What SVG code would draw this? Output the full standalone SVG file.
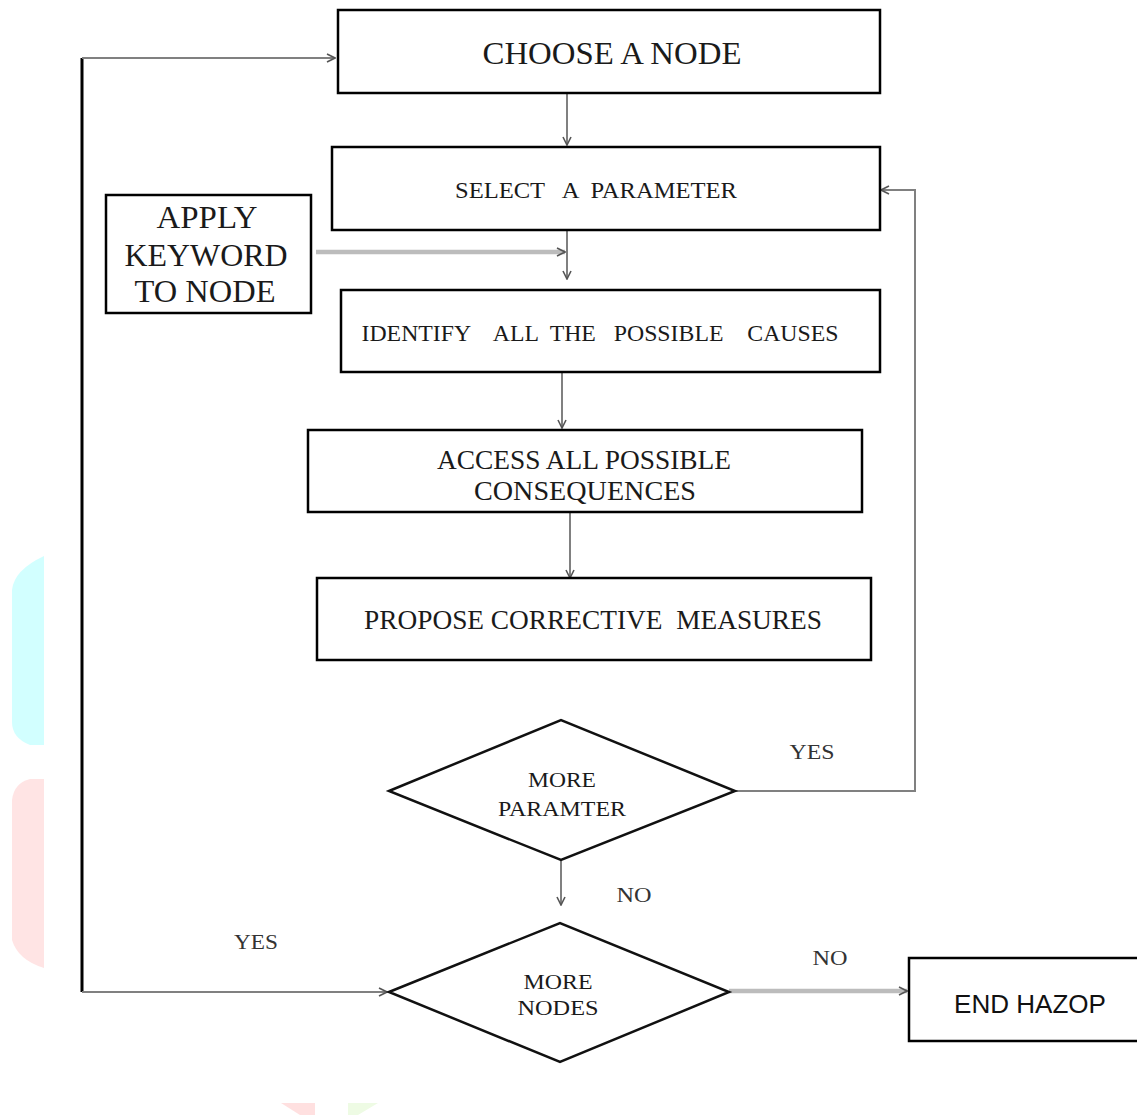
<svg xmlns="http://www.w3.org/2000/svg" width="1137" height="1115" viewBox="0 0 1137 1115">
<defs>
<marker id="arr" viewBox="0 0 10 10" refX="9" refY="5" markerWidth="10" markerHeight="10" markerUnits="userSpaceOnUse" orient="auto">
<path d="M1,1 L9,5 L1,9" fill="none" stroke="#555" stroke-width="1.6"/>
</marker>
</defs>
<style>
.box{fill:#fff;stroke:#000;stroke-width:2.5}
.t{font-family:"Liberation Serif","Times New Roman",serif;fill:#1a1a1a;text-anchor:middle}
.s{font-family:"Liberation Sans",Arial,sans-serif;fill:#111;text-anchor:middle}
.c{fill:none;stroke:#808080;stroke-width:2}
.ct{fill:none;stroke:#bcbcbc;stroke-width:4.5}
.lbl{font-family:"Liberation Serif","Times New Roman",serif;fill:#333;font-size:20px;text-anchor:middle}
</style>
<rect width="1137" height="1115" fill="#fff"/>
<g id="watermark">
<path d="M44,556 L44,745 L30,745 Q12,738 12,722 L12,590 Q14,570 44,556 Z" fill="#d2ffff"/>
<path d="M44,779 L44,968 Q18,960 12,940 L12,800 Q14,783 30,779 Z" fill="#ffe4e4"/>
<path d="M281,1103 L315,1103 L315,1115 L300,1115 Z" fill="#ffe0e0"/>
<path d="M348,1103 L378,1103 L358,1115 L348,1115 Z" fill="#eefbe4"/>
</g>
<g id="connectors">
<line class="c" x1="567" y1="93" x2="567" y2="145" marker-end="url(#arr)"/>
<line class="c" x1="567" y1="230" x2="567" y2="279" marker-end="url(#arr)"/>
<line class="ct" x1="316" y1="252" x2="565" y2="252" marker-end="url(#arr)"/>
<line class="c" x1="562" y1="372" x2="562" y2="428" marker-end="url(#arr)"/>
<line class="c" x1="570" y1="512" x2="570" y2="578" marker-end="url(#arr)"/>
<polyline class="c" points="735,791 915,791 915,190 881,190" marker-end="url(#arr)"/>
<line class="c" x1="561" y1="860" x2="561" y2="905" stroke="#a0a0a0" marker-end="url(#arr)"/>
<line class="ct" x1="729" y1="991" x2="907" y2="991" marker-end="url(#arr)"/>
<line x1="82" y1="58" x2="82" y2="992" stroke="#000" stroke-width="3"/>
<line class="c" x1="82" y1="58" x2="335" y2="58" marker-end="url(#arr)"/>
<line class="c" x1="82" y1="992" x2="387" y2="992" marker-end="url(#arr)"/>
</g>
<g id="n-choose">
<rect class="box" x="338" y="10" width="542" height="83"/>
<text class="t" x="612" y="64" font-size="32" textLength="259" lengthAdjust="spacingAndGlyphs">CHOOSE A NODE</text>
</g>
<g id="n-select">
<rect class="box" x="332" y="147" width="548" height="83"/>
<text class="t" x="596" y="198" font-size="23" textLength="282" lengthAdjust="spacingAndGlyphs" xml:space="preserve">SELECT   A  PARAMETER</text>
</g>
<g id="n-apply">
<rect class="box" x="106" y="195" width="205" height="118"/>
<text class="t" x="207" y="228" font-size="31" textLength="101" lengthAdjust="spacingAndGlyphs">APPLY</text>
<text class="t" x="206" y="266" font-size="31" textLength="163" lengthAdjust="spacingAndGlyphs">KEYWORD</text>
<text class="t" x="205" y="302" font-size="31" textLength="141" lengthAdjust="spacingAndGlyphs">TO NODE</text>
</g>
<g id="n-identify">
<rect class="box" x="341" y="290" width="539" height="82"/>
<text class="t" x="600" y="341" font-size="23" textLength="477" lengthAdjust="spacingAndGlyphs" xml:space="preserve">IDENTIFY    ALL  THE   POSSIBLE    CAUSES</text>
</g>
<g id="n-access">
<rect class="box" x="308" y="430" width="554" height="82"/>
<text class="t" x="584" y="469" font-size="27" textLength="294" lengthAdjust="spacingAndGlyphs">ACCESS ALL POSSIBLE</text>
<text class="t" x="585" y="500" font-size="27" textLength="222" lengthAdjust="spacingAndGlyphs">CONSEQUENCES</text>
</g>
<g id="n-propose">
<rect class="box" x="317" y="578" width="554" height="82"/>
<text class="t" x="593" y="629" font-size="27" textLength="458" lengthAdjust="spacingAndGlyphs" xml:space="preserve">PROPOSE CORRECTIVE  MEASURES</text>
</g>
<g id="n-moreparam">
<polygon points="389,791 561,720 735,791 561,860" fill="#fff" stroke="#111" stroke-width="2.5"/>
<text class="t" x="562" y="787" font-size="20" fill="#333" textLength="68" lengthAdjust="spacingAndGlyphs">MORE</text>
<text class="t" x="562" y="816" font-size="20" fill="#333" textLength="128" lengthAdjust="spacingAndGlyphs">PARAMTER</text>
</g>
<g id="n-morenodes">
<polygon points="389,992 560,923 729,992 560,1062" fill="#fff" stroke="#111" stroke-width="2.5"/>
<text class="t" x="558" y="989" font-size="20" fill="#333" textLength="69" lengthAdjust="spacingAndGlyphs">MORE</text>
<text class="t" x="558" y="1015" font-size="20" fill="#333" textLength="81" lengthAdjust="spacingAndGlyphs">NODES</text>
</g>
<g id="n-end">
<rect class="box" x="909" y="958" width="240" height="83"/>
<text class="s" x="1030" y="1013" font-size="25" textLength="152" lengthAdjust="spacingAndGlyphs">END HAZOP</text>
</g>
<g id="labels">
<text class="lbl" x="812" y="759" textLength="45" lengthAdjust="spacingAndGlyphs">YES</text>
<text class="lbl" x="634" y="902" textLength="35" lengthAdjust="spacingAndGlyphs">NO</text>
<text class="lbl" x="256" y="949" textLength="44" lengthAdjust="spacingAndGlyphs">YES</text>
<text class="lbl" x="830" y="965" textLength="35" lengthAdjust="spacingAndGlyphs">NO</text>
</g>
</svg>
